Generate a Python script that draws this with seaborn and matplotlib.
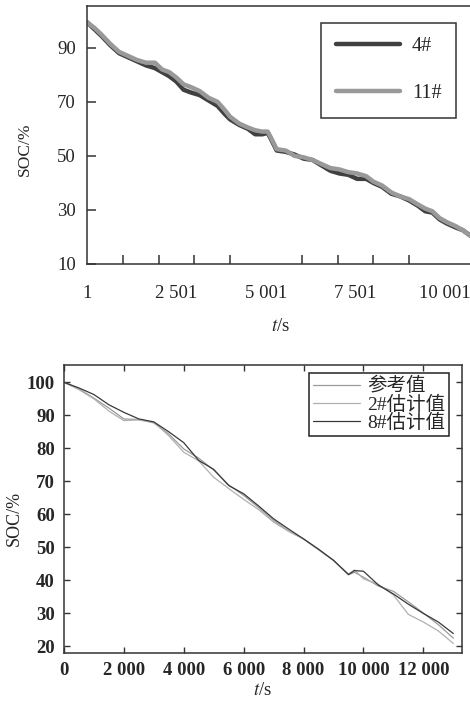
import numpy as np
import pandas as pd
import seaborn as sns
import matplotlib.pyplot as plt
from matplotlib.ticker import FixedLocator

# ---- top chart data (cells 4# and 11#) ----
t_top = [1, 200, 400, 650, 900, 1150, 1400, 1650, 1900, 2100, 2300, 2500, 2700, 2900,
         3150, 3400, 3650, 3850, 4000, 4250, 4500, 4700, 4900, 5050, 5150, 5300, 5550,
         5800, 6050, 6300, 6550, 6800, 7050, 7300, 7550, 7800, 8000, 8250, 8500, 8750,
         9000, 9250, 9450, 9650, 9850, 10050, 10300, 10500, 10811]
soc_4 = [99.5, 97, 94.5, 91, 88, 86.5, 85, 83.5, 82.5, 81, 79.5, 77.5, 74.5, 73.5,
         72.5, 70.5, 68.5, 65.5, 63.5, 61.5, 60, 58, 58, 58.5, 56, 52, 51.5,
         50.5, 49, 48.5, 46.5, 44.5, 43.5, 43, 41.5, 41.5, 40, 38.5, 36, 35,
         33.5, 31.5, 29.5, 29, 26.5, 25, 23.5, 22.5, 19.5]
soc_11 = [99.5, 97.5, 95, 91.5, 88.5, 87, 85.5, 84.5, 84.5, 82, 81, 79, 76.5, 75.5,
          74, 71.5, 70, 67, 64.5, 62, 60.5, 59.5, 59, 59, 56.5, 52.5, 52,
          50, 49.5, 48.5, 47, 45.5, 45, 44, 43.5, 42.5, 40.5, 39, 36.5, 35,
          34, 32, 30.5, 29.5, 27, 25.5, 24, 22.5, 19.5]
top_xticks = [1, 2501, 5001, 7501, 10001]
top_xlabels = ["1", "2 501", "5 001", "7 501", "10 001"]
top_yticks = [10, 30, 50, 70, 90]

# ---- bottom chart data (reference, 2# and 8# estimates) ----
t_bot = [0, 500, 1000, 1500, 2000, 2500, 3000, 3500, 4000, 4500, 5000, 5500, 6000, 6500,
         7000, 7500, 8000, 8500, 9000, 9500, 9700, 10000, 10500, 11000, 11500, 12000,
         12500, 13000]
soc_ref = [100, 98.0, 95.2, 92.2, 88.9, 88.7, 87.7, 84.3, 79.8, 77.0, 73.4, 68.9, 65.7, 62.0,
           58.1, 54.9, 52.5, 49.2, 46.0, 41.6, 42.4, 40.9, 38.2, 36.6, 33.4, 30.0,
           26.5, 22.4]
soc_2 = [100, 97.8, 95.0, 91.3, 88.4, 88.6, 87.9, 83.8, 78.8, 76.2, 71.2, 67.8, 64.5, 61.4,
         57.6, 54.8, 52.5, 49.3, 46.0, 41.8, 43.1, 40.4, 38.7, 35.5, 29.6, 27.3,
         24.6, 20.8]
soc_8 = [100, 98.3, 96.3, 93.2, 90.9, 88.9, 88.0, 85.0, 81.7, 76.3, 73.6, 68.7, 66.2, 62.5,
         58.6, 55.5, 52.5, 49.4, 46.0, 41.7, 42.9, 42.7, 38.5, 35.8, 32.7, 29.9,
         27.3, 23.8]
bot_xticks = [0, 2000, 4000, 6000, 8000, 10000, 12000]
bot_xlabels = ["0", "2 000", "4 000", "6 000", "8 000", "10 000", "12 000"]
bot_yticks = [20, 30, 40, 50, 60, 70, 80, 90, 100]

sns.set_style("ticks")
plt.rcParams['font.family'] = ['Liberation Serif', 'Noto Sans CJK SC']
plt.rcParams['mathtext.fontset'] = 'stix'
spine_c = '#333333'

fig = plt.figure(figsize=(4.7, 7.02), dpi=100)

# top chart
ax1 = fig.add_axes([0.185, 0.624, 0.8234, 0.3675])
sns.lineplot(x=t_top, y=soc_4, ax=ax1, color='#404040', lw=3.2, label='4#')
sns.lineplot(x=t_top, y=soc_11, ax=ax1, color='#999999', lw=3.2, label='11#')
ax1.set_xlim(1, 10811)
ax1.set_ylim(10, 105.5)
ax1.set_xticks(top_xticks)
ax1.set_xticklabels(top_xlabels)
ax1.xaxis.set_minor_locator(FixedLocator(list(range(1001, 10002, 1000))))
ax1.set_yticks(top_yticks)
ax1.tick_params(axis='x', which='major', length=0, pad=15, labelsize=13.5)
ax1.tick_params(axis='x', which='minor', direction='in', length=6.5, width=1.1, color=spine_c)
ax1.tick_params(axis='y', direction='in', length=6.5, width=1.1, pad=8, labelsize=13.5,
                color=spine_c)
for s in ax1.spines.values():
    s.set_color(spine_c)
    s.set_linewidth(1.1)
ax1.set_xlabel('$t$/s', fontsize=13.5)
ax1.xaxis.set_label_coords(0.5, -0.21)
ax1.set_ylabel('SOC/%', fontsize=12.5)
ax1.yaxis.set_label_coords(-0.14, 0.446)
ax1.legend(loc='upper right', bbox_to_anchor=(0.953, 0.934), borderaxespad=0,
           fontsize=14.5, handlelength=3.2, handletextpad=0.6, borderpad=0.7,
           labelspacing=1.4, fancybox=False, edgecolor=spine_c, framealpha=1)
ax1.get_legend().get_frame().set_linewidth(1.1)

# bottom chart
ax2 = fig.add_axes([0.136, 0.0698, 0.847, 0.410])
sns.lineplot(x=t_bot, y=soc_ref, ax=ax2, color='#9a9a9a', lw=0.9, label='参考值')
sns.lineplot(x=t_bot, y=soc_2, ax=ax2, color='#b0b0b0', lw=0.9, label='2#估计值')
sns.lineplot(x=t_bot, y=soc_8, ax=ax2, color='#383838', lw=0.9, label='8#估计值')
ax2.set_xlim(0, 13290)
ax2.set_ylim(17.9, 105.2)
ax2.set_xticks(bot_xticks)
ax2.set_xticklabels(bot_xlabels)
ax2.set_yticks(bot_yticks)
ax2.tick_params(direction='in', length=4.5, width=1, top=True, right=True, pad=6.5,
                labelsize=13.5, color=spine_c)
for lab in ax2.get_xticklabels() + ax2.get_yticklabels():
    lab.set_fontweight('bold')
for s in ax2.spines.values():
    s.set_color(spine_c)
    s.set_linewidth(1.1)
ax2.set_xlabel('$t$/s', fontsize=13.5)
ax2.xaxis.set_label_coords(0.5, -0.1)
ax2.set_ylabel('SOC/%', fontsize=13)
ax2.yaxis.set_label_coords(-0.103, 0.469)
ax2.legend(loc='upper right', bbox_to_anchor=(0.967, 0.972), borderaxespad=0,
           prop={'family': ['Liberation Serif', 'Noto Sans CJK SC'], 'size': 14},
           handlelength=2.4, handletextpad=0.35, borderpad=0.2, labelspacing=0,
           fancybox=False, edgecolor='#222222', framealpha=1)
ax2.get_legend().get_frame().set_linewidth(1.1)

fig.savefig('out.png', dpi=100)
